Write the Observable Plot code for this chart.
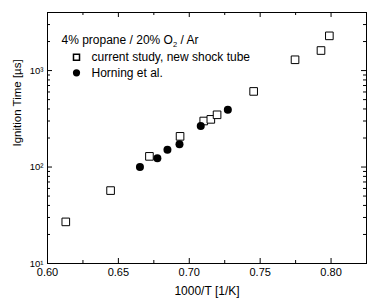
<!DOCTYPE html>
<html><head><meta charset="utf-8">
<script src="https://cdn.jsdelivr.net/npm/d3@7"></script>
<script src="https://cdn.jsdelivr.net/npm/@observablehq/plot@0.6"></script>
<style>body{margin:0;background:#fff}</style>
</head><body><div id="chart"></div>
<script>
// Data
const currentX = [0.6129, 0.6445, 0.6719, 0.6935, 0.7102, 0.7152, 0.7196, 0.7454, 0.7746, 0.7929, 0.7988];
const currentY = [27, 57, 129, 208, 300, 312, 348, 608, 1294, 1614, 2291];
const horningX = [0.6652, 0.6775, 0.6846, 0.6931, 0.7081, 0.7272];
const horningY = [100, 123, 151, 172, 266, 393];
const seriesNames = ["current study, new shock tube", "Horning et al."];
const legendTitle = "4% propane / 20% O₂ / Ar";
const xLabel = "1000/T [1/K]";
const yLabel = "Ignition Time [µs]";
const xMajor = [0.60, 0.65, 0.70, 0.75, 0.80];
const xMinor = [0.625, 0.675, 0.725, 0.775];
const yMajor = [10, 100, 1000];
const yMinor = [20, 30, 40, 50, 60, 70, 80, 90, 200, 300, 400, 500, 600, 700, 800, 900, 2000, 3000];

const current = currentX.map((x, i) => ({x, y: currentY[i]}));
const horning = horningX.map((x, i) => ({x, y: horningY[i]}));

const W = 384, H = 304, mT = 12, mB = 41, mL = 47, mR = 18;
const pw = W - mL - mR, ph = H - mT - mB;
const sup = {1: "¹", 2: "²", 3: "³"};

const plot = Plot.plot({
  width: W, height: H,
  marginTop: mT, marginBottom: mB, marginLeft: mL, marginRight: mR,
  style: {fontFamily: "'Liberation Sans', Arial, sans-serif", fontSize: "11px", background: "#fff", color: "#000"},
  x: {domain: [0.6, 0.825]},
  y: {type: "log", domain: [10, 4000]},
  marks: [
    Plot.frame({stroke: "#000", strokeWidth: 1}),
    // inward ticks, bottom/top
    Plot.ruleX(xMajor, {x: d => d, insetTop: ph - 5, stroke: "#000"}),
    Plot.ruleX(xMinor, {x: d => d, insetTop: ph - 3, stroke: "#000"}),
    Plot.ruleX(xMajor, {x: d => d, insetBottom: ph - 5, stroke: "#000"}),
    Plot.ruleX(xMinor, {x: d => d, insetBottom: ph - 3, stroke: "#000"}),
    // inward ticks, left/right
    Plot.ruleY(yMajor, {y: d => d, insetRight: pw - 5, stroke: "#000"}),
    Plot.ruleY(yMinor, {y: d => d, insetRight: pw - 3, stroke: "#000"}),
    Plot.ruleY(yMajor, {y: d => d, insetLeft: pw - 5, stroke: "#000"}),
    Plot.ruleY(yMinor, {y: d => d, insetLeft: pw - 3, stroke: "#000"}),
    Plot.axisX({ticks: xMajor, tickSize: 0, tickPadding: 5, tickFormat: d3.format(".2f"), label: null}),
    Plot.axisY({ticks: yMajor, tickSize: 0, tickPadding: 4, tickFormat: d => "10" + sup[Math.round(Math.log10(d))], label: null, fontSize: "9.5px"}),
    Plot.text([xLabel], {text: d => d, frameAnchor: "bottom", dy: 28, lineAnchor: "middle", fontSize: 12}),
    Plot.text([yLabel], {text: d => d, frameAnchor: "left", dx: -30, dy: 8.5, rotate: -90, lineAnchor: "middle", fontSize: 11.5}),
    // data
    Plot.dot(current, {x: "x", y: "y", symbol: "square", r: 4.3, stroke: "#000", fill: "#fff", strokeWidth: 1}),
    Plot.dot(horning, {x: "x", y: "y", symbol: "circle", r: 4, fill: "#000", stroke: "none"}),
    // legend
    Plot.text([legendTitle], {text: d => d, frameAnchor: "top-left", dx: 14, dy: 28, textAnchor: "start", lineAnchor: "middle", fontSize: 12, className: "legend-title"}),
    Plot.dot([seriesNames[0]], {frameAnchor: "top-left", dx: 29, dy: 44.7, symbol: "square", r: 3.4, stroke: "#000", fill: "#fff"}),
    Plot.dot([seriesNames[1]], {frameAnchor: "top-left", dx: 29, dy: 60.3, symbol: "circle", r: 3.6, fill: "#000", stroke: "none"}),
    Plot.text([seriesNames[0]], {text: d => d, frameAnchor: "top-left", dx: 44, dy: 44.7, textAnchor: "start", lineAnchor: "middle", fontSize: 12}),
    Plot.text([seriesNames[1]], {text: d => d, frameAnchor: "top-left", dx: 44, dy: 60.3, textAnchor: "start", lineAnchor: "middle", fontSize: 12})
  ]
});

// render subscript for O2
d3.select(plot).selectAll(".legend-title text").each(function() {
  const t = this.textContent;
  const parts = t.split("₂");
  const sel = d3.select(this);
  sel.text(null);
  sel.append("tspan").text(parts[0]);
  sel.append("tspan").attr("font-size", "7.5px").attr("dy", "3").text("2");
  sel.append("tspan").attr("dy", "-3").text(parts[1]);
});

document.getElementById("chart").append(plot);
</script>
</body></html>
